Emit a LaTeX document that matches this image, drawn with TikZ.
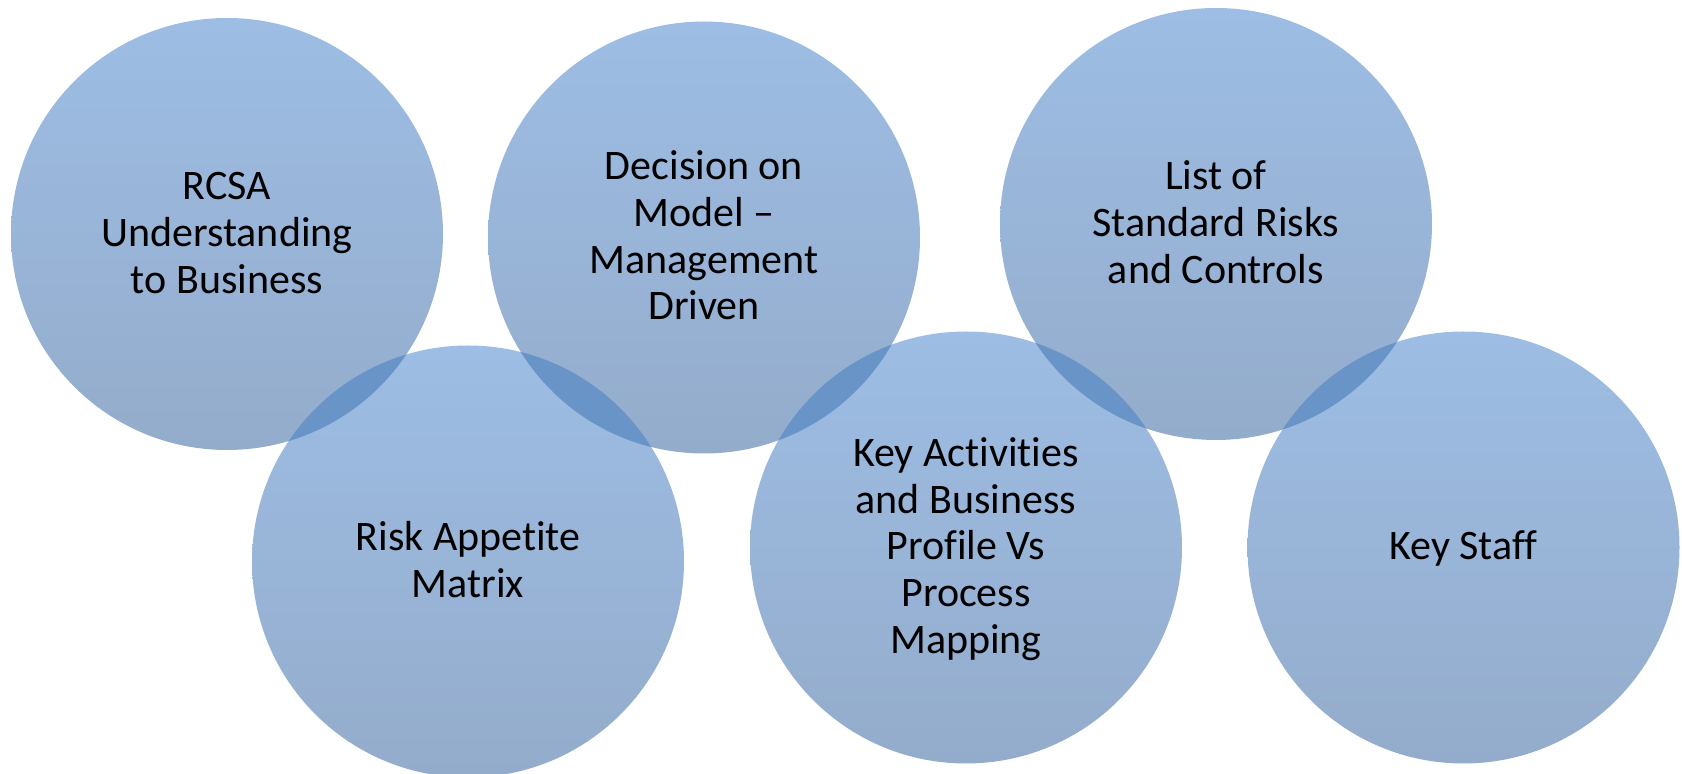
\documentclass[tikz,border=0pt]{standalone}
\usepackage{fontspec}
\setmainfont{Carlito}[Ligatures={NoCommon,NoRare,NoContextual}]
\definecolor{ctop}{RGB}{157,189,228}
\definecolor{cbot}{RGB}{148,172,203}
\definecolor{cover}{RGB}{104,148,200}
\begin{document}
\begin{tikzpicture}[x=1pt,y=1pt,
  bubble/.style={circle, minimum size=432pt, inner sep=0pt, draw=none,
                 top color=ctop, bottom color=cbot},
  lbl/.style={align=center, text=black, inner sep=0pt, yshift=-3pt,
              font=\fontsize{42}{46.7}\selectfont},
  overlap/.style={fill=cover}]
\useasboundingbox (0,0) rectangle (1682,774);

% the six circles
\node[bubble] (c1) at (227,540) {};
\node[bubble] (c2) at (468,212.5) {};
\node[bubble] (c3) at (704,536.5) {};
\node[bubble] (c4) at (966,226.5) {};
\node[bubble] (c5) at (1216,550) {};
\node[bubble] (c6) at (1463.5,226.5) {};

% darker lens where neighbouring circles overlap
\begin{scope}
  \clip (c1.center) circle (216);
  \fill[overlap] (c2.center) circle (216);
\end{scope}
\begin{scope}
  \clip (c2.center) circle (216);
  \fill[overlap] (c3.center) circle (216);
\end{scope}
\begin{scope}
  \clip (c3.center) circle (216);
  \fill[overlap] (c4.center) circle (216);
\end{scope}
\begin{scope}
  \clip (c4.center) circle (216);
  \fill[overlap] (c5.center) circle (216);
\end{scope}
\begin{scope}
  \clip (c5.center) circle (216);
  \fill[overlap] (c6.center) circle (216);
\end{scope}

% labels
\node[lbl] (t1) at (c1) {\strut RCSA\\Understanding\\to Business\strut};
\node[lbl] (t2) at (c2) {\strut Risk Appetite\\Matrix\strut};
\node[lbl] (t3) at (c3) {\strut Decision on\\Model --\\Management\\Driven\strut};
\node[lbl] (t4) at (c4) {\strut Key Activities\\and Business\\Profile Vs\\Process\\Mapping\strut};
\node[lbl] (t5) at (c5) {\strut List of\\Standard Risks\\and Controls\strut};
\node[lbl] (t6) at (c6) {\strut Key Staff\strut};
\end{tikzpicture}
\end{document}
